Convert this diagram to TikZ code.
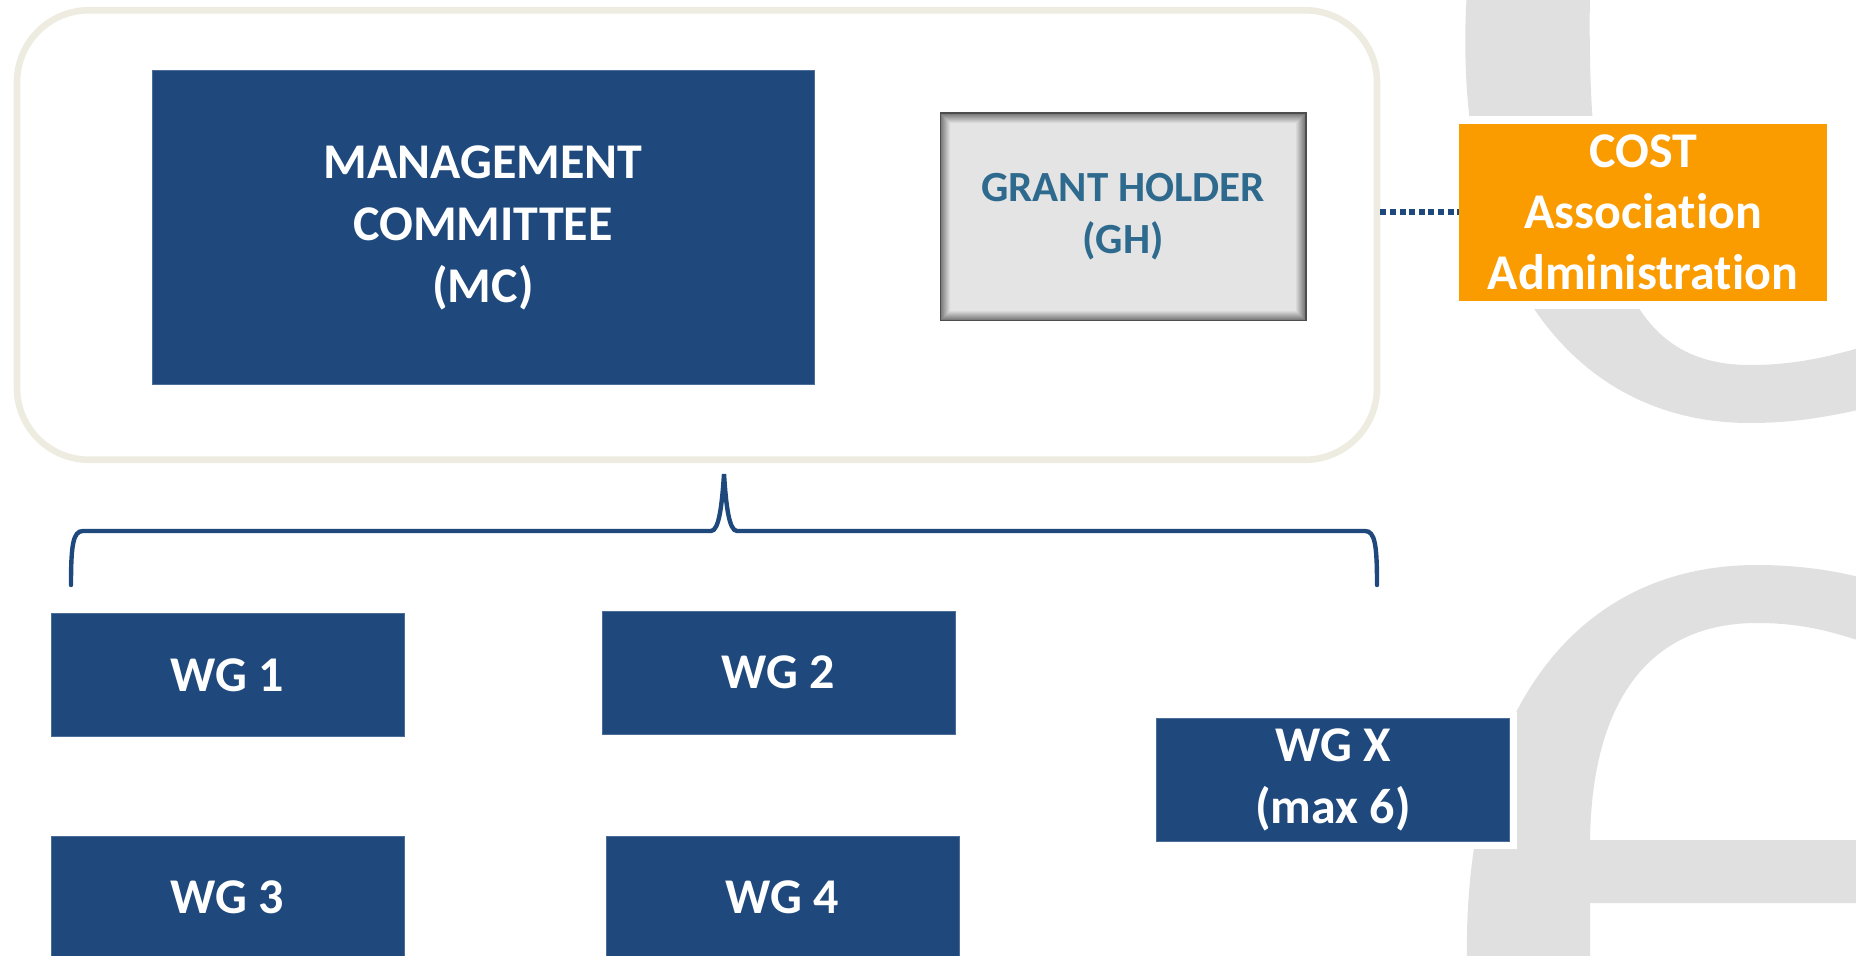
\documentclass[tikz,border=0pt]{standalone}
\usepackage{fontspec}
\setmainfont[Ligatures=NoCommon]{Carlito}
\usetikzlibrary{calc}
\definecolor{mcblue}{HTML}{1F497D}
\definecolor{costorange}{HTML}{FA9B00}
\definecolor{boardline}{HTML}{EEECE1}
\definecolor{ghfill}{HTML}{E4E4E4}
\definecolor{ghtext}{HTML}{2E6A8E}
\definecolor{ghedge}{HTML}{4D4D4D}
\definecolor{logogray}{HTML}{E0E0E0}
\tikzset{
  bluebox/.style={rectangle, fill=mcblue, draw=mcblue!80!white, line width=0.5pt,
    text=white, align=center, inner sep=0pt,
    font=\bfseries\fontsize{25}{31}\selectfont},
  wgbox/.style={bluebox, minimum width=176.5pt, minimum height=61.5pt},
  boardbox/.style={rectangle, rounded corners=36pt, draw=boardline, line width=3.3pt},
  ghbox/.style={rectangle, fill=ghfill, draw=ghedge, line width=1.5pt, text=ghtext,
    align=center, font=\bfseries\fontsize{21.5}{26}\selectfont},
  costbox/.style={rectangle, fill=costorange, text=white, align=center, inner sep=0pt,
    font=\bfseries\fontsize{25}{30.5}\selectfont,
    preaction={draw=white, line width=8pt}},
  linkdots/.style={mcblue, line width=3pt, dash pattern=on 3pt off 1.8pt},
  brace/.style={mcblue, line width=2.2pt, line cap=round}
}
\begin{document}
\begin{tikzpicture}[x=0.5pt,y=-0.5pt]
\clip (0,0) rectangle (1856,956);
% Grey logo letters behind the chart
\fill[logogray, even odd rule]
  (1467,-10) .. controls (1450,250) and (1560,423) .. (1750,423)
    .. controls (1800,423) and (1840,415) .. (1900,400) -- (1900,-10) -- cycle
  (1590,-10) .. controls (1585,280) and (1640,365) .. (1750,365)
    .. controls (1800,365) and (1840,355) .. (1900,335) -- (1900,-10) -- cycle;
\fill[logogray, even odd rule]
  (1467,960) .. controls (1463,720) and (1570,565) .. (1757,565)
    .. controls (1820,565) and (1870,578) .. (1900,590) -- (1900,960) -- cycle
  (1590,840) .. controls (1592,700) and (1650,623) .. (1757,623)
    .. controls (1810,623) and (1845,635) .. (1900,655) -- (1900,840) -- cycle
  (1590,903) rectangle (1900,960);
% Action bodies
\node[boardbox, minimum width=680pt, minimum height=224.75pt] (board) at (697,235) {};
\node[bluebox, minimum width=331pt, minimum height=157pt] (mc) at (483,228)
  {MANAGEMENT\\COMMITTEE\\(MC)};
\node[ghbox, minimum width=182pt, minimum height=103pt] (gh) at (1123,217)
  {GRANT HOLDER\\(GH)};
\foreach \k in {2,...,10}{
  \pgfmathtruncatemacro{\mix}{5*(11-\k)}
  \draw[black!\mix!ghfill, line width=0.6pt]
    ($(gh.north west)+(\k,\k)$) rectangle ($(gh.south east)-(\k,\k)$);
}
\node[costbox, minimum width=184pt, minimum height=88.5pt] (cost) at (1643,212.5)
  {COST\\Association\\Administration};
\draw[linkdots] (cost.west -| board.east) -- (cost.west);
% Brace down to the working groups
\coordinate (tip) at (724,474);
\coordinate (lend) at (71,585);
\coordinate (rend) at (1377,585);
\draw[brace] (lend) .. controls (71,545) and (73,531) .. (83,531) -- (711,531)
  .. controls (719,531) and (722,505) .. (tip)
  .. controls (726,505) and (729,531) .. (737,531) -- (1365,531)
  .. controls (1375,531) and (1377,545) .. (rend);
% Working groups
\node[wgbox] (wg1) at (227.5,675) {WG 1};
\node[wgbox] (wg2) at (778.5,672.5) {WG 2};
\node[wgbox] (wg3) at (227.5,897.5) {WG 3};
\node[wgbox] (wg4) at (782.5,897.5) {WG 4};
\node[wgbox, preaction={draw=white, line width=7pt, rounded corners=2pt}] (wgx)
  at (1333,780) {WG X\\(max 6)};
\end{tikzpicture}
\end{document}
